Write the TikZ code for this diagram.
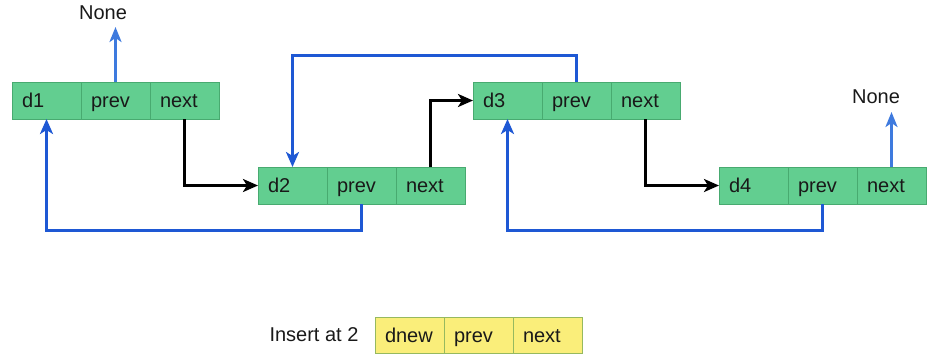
\documentclass[tikz,border=0pt]{standalone}
\usetikzlibrary{arrows.meta}
\usepackage{fontspec}
\setmainfont{Liberation Sans}

\definecolor{cellgreen}{RGB}{98,206,144}
\definecolor{cellgreenline}{RGB}{72,170,112}
\definecolor{cellyellow}{RGB}{250,238,122}
\definecolor{cellyellowline}{RGB}{150,185,95}
\definecolor{linkblue}{RGB}{30,88,212}
\definecolor{noneblue}{RGB}{62,122,222}
\definecolor{textdark}{RGB}{25,25,25}

\tikzset{
  cell/.style={draw=cellgreenline, fill=cellgreen, line width=1pt, outer sep=0pt,
    minimum width=69pt, minimum height=37pt, inner xsep=10pt, inner ysep=0pt,
    text width=49pt, align=left, text height=16pt, text depth=2pt,
    text=textdark, font=\fontsize{20}{22}\selectfont, anchor=north west},
  ycell/.style={cell, draw=cellyellowline, fill=cellyellow, minimum height=36pt},
  label/.style={text=textdark, font=\fontsize{20}{22}\selectfont, inner sep=0pt},
  nextlink/.style={draw=black, line width=3pt, -{Stealth[length=15pt,width=13pt,inset=4pt]}},
  prevlink/.style={draw=linkblue, line width=3pt, -{Stealth[length=15pt,width=13pt,inset=4pt]}},
  nonelink/.style={draw=noneblue, line width=2.8pt, -{Stealth[length=15pt,width=12pt,inset=4pt]}}
}

\begin{document}
\begin{tikzpicture}[x=1pt, y=-1pt]
  \useasboundingbox (0,0) rectangle (928,354);

  % node 1
  \node[cell] (d1) at (12,82) {d1};
  \node[cell] (p1) at (d1.north east) {prev};
  \node[cell] (n1) at (p1.north east) {next};
  % node 2
  \node[cell] (d2) at (258,167) {d2};
  \node[cell] (p2) at (d2.north east) {prev};
  \node[cell] (n2) at (p2.north east) {next};
  % node 3
  \node[cell] (d3) at (473,82) {d3};
  \node[cell] (p3) at (d3.north east) {prev};
  \node[cell] (n3) at (p3.north east) {next};
  % node 4
  \node[cell] (d4) at (719,167) {d4};
  \node[cell] (p4) at (d4.north east) {prev};
  \node[cell] (n4) at (p4.north east) {next};

  % node to be inserted
  \node[ycell] (dn) at (375,317) {dnew};
  \node[ycell] (pn) at (dn.north east) {prev};
  \node[ycell] (nn) at (pn.north east) {next};
  \node[label] (ins) at (314,335) {Insert at 2};

  % None markers
  \node[label] (none1) at (103,13) {None};
  \node[label] (none2) at (876,97) {None};
  \coordinate (none1end) at (p1.north |- 0,27);
  \coordinate (none2end) at (n4.north |- 0,112);

  % next pointers
  \draw[nextlink] (n1.south) |- (d2.west);
  \draw[nextlink] (n2.north) |- (d3.west);
  \draw[nextlink] (n3.south) |- (d4.west);

  % prev pointers
  \draw[prevlink] (p2.south) -- ++(0,26) -| (d1.south);
  \draw[prevlink] (p3.north) -- ++(0,-27) -| (d2.north);
  \draw[prevlink] (p4.south) -- ++(0,26) -| (d3.south);

  % ends of the list
  \draw[nonelink] (p1.north) -- (none1end);
  \draw[nonelink] (n4.north) -- (none2end);
\end{tikzpicture}
\end{document}
